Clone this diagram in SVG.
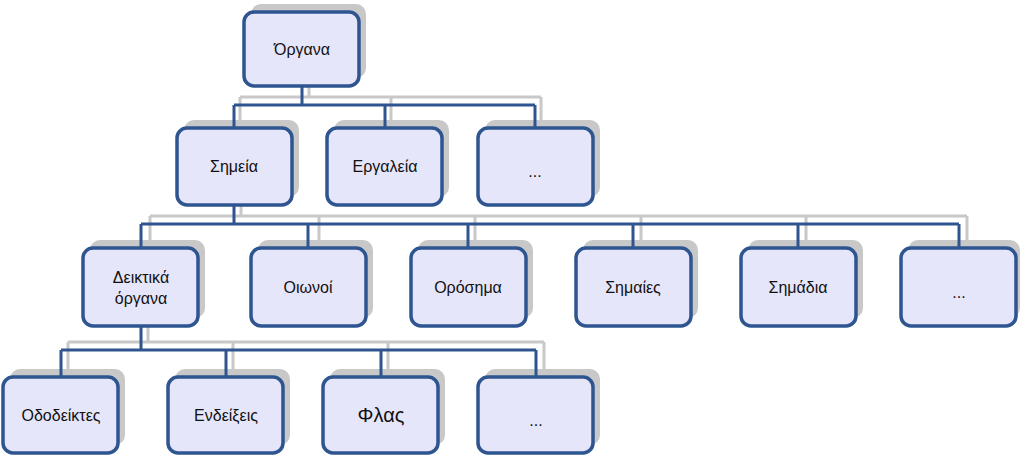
<svg xmlns="http://www.w3.org/2000/svg" width="1024" height="458" viewBox="0 0 1024 458">
<style>
.b{fill:#e6e6fa;stroke:#2e5590;stroke-width:3.5}
.s{fill:#c8c8c8}
.t{font-family:"Liberation Sans",Arial,sans-serif;font-size:16px;fill:#111;text-anchor:middle}
.c{fill:none;stroke:#2e5590;stroke-width:3}
.g{fill:none;stroke:#c8c8c8;stroke-width:3}
</style>
<rect width="1024" height="458" fill="#fff"/>
<g id="shadow-connectors">
<path class="g" d="M309 78V97M240 97H541M240 97V120M391 97V120M541 97V120"/>
<path class="g" d="M241 198V216M150 216H967M150 216V240M319 216V240M475 216V240M641 216V240M806 216V240M967 216V240"/>
<path class="g" d="M148 318V342M68 342H544M68 342V370M233 342V370M388 342V370M544 342V370"/>
</g>
<g id="shadows">
<rect class="s" x="251" y="4" width="115" height="74" rx="10"/>
<rect class="s" x="184" y="120" width="115" height="77" rx="10"/>
<rect class="s" x="334" y="120" width="115" height="77" rx="10"/>
<rect class="s" x="485" y="120" width="115" height="77" rx="10"/>
<rect class="s" x="90" y="240" width="115" height="78" rx="10"/>
<rect class="s" x="258" y="240" width="115" height="78" rx="10"/>
<rect class="s" x="418" y="240" width="115" height="78" rx="10"/>
<rect class="s" x="583" y="240" width="115" height="78" rx="10"/>
<rect class="s" x="748" y="240" width="115" height="78" rx="10"/>
<rect class="s" x="908" y="240" width="112" height="78" rx="10"/>
<rect class="s" x="10" y="369" width="115" height="76" rx="10"/>
<rect class="s" x="175" y="369" width="115" height="76" rx="10"/>
<rect class="s" x="330" y="369" width="115" height="76" rx="10"/>
<rect class="s" x="485" y="369" width="115" height="76" rx="10"/>
</g>
<g id="connectors">
<path class="c" d="M302 86V105M234 105H535M234 105V128M385 105V128M535 105V128"/>
<path class="c" d="M234 205V224M141 224H959M141 224V248M308 224V248M468 224V248M633 224V248M798 224V248M959 224V248"/>
<path class="c" d="M141 326V350M61 350H536M61 350V377M226 350V377M381 350V377M536 350V377"/>
</g>
<g id="n0"><rect class="b" x="244" y="12" width="115" height="74" rx="10"/><text class="t" x="302" y="55">Όργανα</text></g>
<g id="n1"><rect class="b" x="177" y="128" width="115" height="77" rx="10"/><text class="t" x="234" y="172">Σημεία</text></g>
<g id="n2"><rect class="b" x="327" y="128" width="115" height="77" rx="10"/><text class="t" x="385" y="172">Εργαλεία</text></g>
<g id="n3"><rect class="b" x="478" y="128" width="115" height="77" rx="10"/><text class="t" x="535" y="177">...</text></g>
<g id="n4"><rect class="b" x="83" y="248" width="115" height="78" rx="10"/><text class="t" x="141" y="283">Δεικτικά</text><text class="t" x="141" y="304">όργανα</text></g>
<g id="n5"><rect class="b" x="251" y="248" width="115" height="78" rx="10"/><text class="t" x="308" y="293">Οιωνοί</text></g>
<g id="n6"><rect class="b" x="411" y="248" width="115" height="78" rx="10"/><text class="t" x="468" y="293">Ορόσημα</text></g>
<g id="n7"><rect class="b" x="576" y="248" width="115" height="78" rx="10"/><text class="t" x="633" y="293">Σημαίες</text></g>
<g id="n8"><rect class="b" x="741" y="248" width="115" height="78" rx="10"/><text class="t" x="798" y="293">Σημάδια</text></g>
<g id="n9"><rect class="b" x="901" y="248" width="115" height="78" rx="10"/><text class="t" x="959" y="298">...</text></g>
<g id="n10"><rect class="b" x="3" y="377" width="115" height="76" rx="10"/><text class="t" x="61" y="421">Οδοδείκτες</text></g>
<g id="n11"><rect class="b" x="168" y="377" width="115" height="76" rx="10"/><text class="t" x="226" y="421">Ενδείξεις</text></g>
<g id="n12"><rect class="b" x="323" y="377" width="115" height="76" rx="10"/><text class="t" x="381" y="422" style="font-size:20px">Φλας</text></g>
<g id="n13"><rect class="b" x="478" y="377" width="115" height="76" rx="10"/><text class="t" x="536" y="426">...</text></g>
</svg>
